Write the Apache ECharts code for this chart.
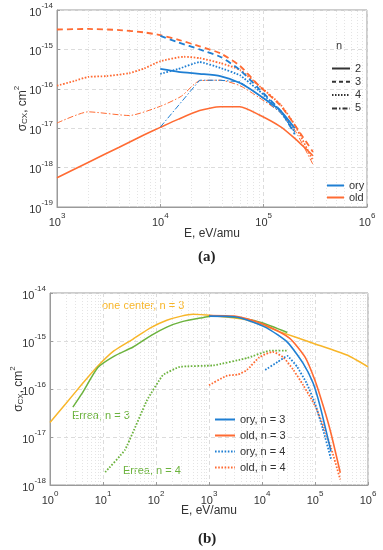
<!DOCTYPE html>
<html><head><meta charset="utf-8">
<script src="https://cdn.jsdelivr.net/npm/echarts@6/dist/echarts.min.js"></script>
<style>html,body{margin:0;padding:0;background:#fff;}#c{width:383px;height:550px;}</style>
</head><body><div id="c"></div>
<script>
// ---------- data: panel (a) [E (eV/amu), sigma (cm^2)] ----------
const A_ORY_N2 = [[1e4,3.2e-16],[1.5e4,2.7e-16],[2.4e4,2.4e-16],[3.8e4,2.1e-16],[5.9e4,1.4e-16],[9e4,7e-17],[1.45e5,2.8e-17],[2e5,1e-17]];
const A_ORY_N3 = [[1e4,2.2e-15],[1.5e4,1.5e-15],[2.4e4,1e-15],[3.8e4,6.5e-16],[5.9e4,3e-16],[9e4,1e-16],[1.45e5,2.8e-17],[2e5,7e-18]];
const A_ORY_N4 = [[1e4,2.4e-16],[1.5e4,3.2e-16],[2.4e4,4.8e-16],[3.8e4,3.4e-16],[5.9e4,2.2e-16],[9e4,9e-17],[1.45e5,2.8e-17],[2e5,8e-18]];
const A_ORY_N5 = [[1e4,1.07e-17],[2.4e4,1.65e-16],[3.8e4,1.65e-16],[5.9e4,1.5e-16],[9e4,7e-17],[1.45e5,2.5e-17],[2e5,8e-18]];
const A_OLD_N2 = [[1e3,5.5e-19],[2e3,1.35e-18],[4e3,3.3e-18],[7e3,6.8e-18],[1e4,1.05e-17],[1.5e4,1.7e-17],[2.4e4,2.8e-17],[3.8e4,3.5e-17],[5.9e4,3.5e-17],[9e4,2.2e-17],[1.45e5,1.1e-17],[2e5,5.5e-18],[3e5,2e-18]];
const A_OLD_N3 = [[1e3,3.2e-15],[2e3,3.3e-15],[4e3,3.1e-15],[7e3,2.7e-15],[1e4,2.3e-15],[1.5e4,1.75e-15],[2.4e4,1.2e-15],[3.8e4,8e-16],[5.9e4,3.8e-16],[9e4,1.2e-16],[1.45e5,3.8e-17],[2e5,1.2e-17],[3e5,2.5e-18]];
const A_OLD_N4 = [[1e3,1.2e-16],[1.5e3,1.6e-16],[2e3,2e-16],[3e3,2.1e-16],[5e3,2.5e-16],[7e3,3.3e-16],[1e4,5e-16],[1.7e4,6.5e-16],[2.4e4,6e-16],[3.8e4,4.5e-16],[5.9e4,3e-16],[9e4,1.2e-16],[1.45e5,4e-17],[2e5,1.2e-17],[3e5,1.5e-18]];
const A_OLD_N5 = [[1e3,1.35e-17],[2e3,2.6e-17],[5e3,2.1e-17],[1e4,3.6e-17],[1.6e4,6.5e-17],[2.4e4,1.6e-16],[3.8e4,1.65e-16],[5.9e4,1.2e-16],[9e4,6e-17],[1.45e5,2.5e-17],[2e5,9e-18],[3e5,1.2e-18]];
// ---------- data: panel (b) ----------
const B_ONE_CENTER_N3 = [[1,2e-17],[2,5e-17],[4,1.25e-16],[8,3e-16],[16,6.2e-16],[37,1.1e-15],[80,1.9e-15],[160,2.7e-15],[300,3.3e-15],[500,3.6e-15],[1.2e3,3.35e-15],[5.2e3,2.75e-15],[2.2e4,1.55e-15],[9.2e4,9e-16],[4e5,5.1e-16],[1e6,2.9e-16]];
const B_ERREA_N3 = [[2.7,4.2e-17],[4,8e-17],[8,2.8e-16],[16,4.8e-16],[37,7.5e-16],[80,1.3e-15],[160,1.95e-15],[300,2.5e-15],[680,3e-15],[1.2e3,3.3e-15],[4e3,3e-15],[1e4,2.4e-15],[3e4,1.5e-15]];
const B_ERREA_N4 = [[11,1.85e-18],[26,5.4e-18],[68,5.9e-17],[135,1.95e-16],[280,2.9e-16],[1.2e3,3.1e-16],[5.2e3,4.4e-16],[1.4e4,6.3e-16],[3e4,6.3e-16]];
const B_ORY_N3 = [[1e3,3.3e-15],[3e3,3.2e-15],[5.2e3,2.75e-15],[1.2e4,1.9e-15],[3e4,9.5e-16],[5.9e4,3.5e-16],[9.2e4,1.33e-16],[1.26e5,4.2e-17],[2e5,5e-18]];
const B_OLD_N3 = [[1e3,3.4e-15],[3e3,3.3e-15],[5.2e3,2.9e-15],[1.2e4,2.1e-15],[3.3e4,1.15e-15],[6.5e4,4.6e-16],[1e5,1.5e-16],[1.45e5,4.2e-17],[2e5,1.2e-17],[3e5,1.8e-18]];
const B_ORY_N4 = [[1.15e4,2.5e-16],[2e4,3.7e-16],[3e4,4.9e-16],[4.6e4,2.9e-16],[7e4,1.3e-16],[1e5,5e-17],[1.4e5,1.5e-17],[2e5,3.5e-18]];
const B_OLD_N4 = [[1e3,1.2e-16],[2.2e3,1.9e-16],[3.5e3,2e-16],[5.2e3,2.5e-16],[9e3,4.6e-16],[1.6e4,5.9e-16],[2.5e4,4.6e-16],[3.9e4,2.5e-16],[6e4,1.2e-16],[1e5,4.5e-17],[1.5e5,1.5e-17],[2e5,6e-18],[3e5,1.3e-18]];
// legend / annotation texts
const A_N_LABELS = ['2','3','4','5'];
const A_SRC_LABELS = ['ory','old'];
const B_LEGEND = ['ory, n = 3','old, n = 3','ory, n = 4','old, n = 4'];

const BLUE = '#1F7FD3', ORANGE = '#FF6B33', YELLOW = '#F8B62A', GREEN = '#6CB33E', INK = '#333';
const DASH = [6,4], DOT = [1.6,1.6], DASHDOT = [6,2,1.5,2];

function minorVals(lo, hi) { // 2..9 x 10^k between decades lo..hi (exponents)
  const r = [];
  for (let k = lo; k < hi; k++) for (let m = 2; m <= 9; m++) r.push(m * Math.pow(10, k));
  return r;
}
const minorStyle = {color:'#e4e4e4', type:[1,2], width:1};
function gridMarks(xlo, xhi, ylo, yhi) {
  return {
    silent: true, symbol: ['none','none'], z: 1, label: {show:false},
    lineStyle: minorStyle, emphasis:{disabled:true},
    animation: false,
    data: minorVals(xlo, xhi).map(v => ({xAxis: v})).concat(minorVals(ylo, yhi).map(v => ({yAxis: v})))
  };
}
const logFmt = v => '{b|10}{s|' + Math.round(Math.log10(v)) + '}';
const tickRich = {b:{fontSize:11, color:INK, lineHeight:16, verticalAlign:'bottom', fontFamily:'Liberation Sans'},
                  s:{fontSize:8, color:INK, verticalAlign:'top', fontFamily:'Liberation Sans'}};
function axisCommon(extra) {
  return Object.assign({
    type:'log', logBase:10,
    axisLine:{show:true, lineStyle:{color:'#9a9a9a'}},
    axisTick:{show:true, inside:true, length:3, lineStyle:{color:'#9a9a9a'}},
    splitLine:{show:true, lineStyle:{color:'#dcdcdc', type:[4,3]}},
    axisLabel:{formatter:logFmt, rich:tickRich, color:INK},
    nameMoveOverlap:false,
    nameTextStyle:{color:INK, fontSize:12, fontFamily:'Liberation Sans'}
  }, extra);
}
const yName = '{a|σ}{sub|CX}{a|, cm}{sup|2}';
const yNameRich = {a:{fontSize:12, color:INK, fontFamily:'Liberation Sans', lineHeight:16, verticalAlign:'bottom'},
  sub:{fontSize:8, color:INK, fontFamily:'Liberation Sans', verticalAlign:'bottom'},
  sup:{fontSize:8, color:INK, fontFamily:'Liberation Sans', verticalAlign:'top'}};

function ln(name, data, color, type, width, xi, extra) {
  return Object.assign({name, type:'line', data, xAxisIndex:xi, yAxisIndex:xi, showSymbol:false, symbol:'none',
    smooth:0.2, lineStyle:{color, type, width}, itemStyle:{color}, z:3, animation:false}, extra || {});
}

const series = [
  ln('a-old-2', A_OLD_N2, ORANGE, 'solid', 1.6, 0, {markLine: gridMarks(3,6,-19,-14)}),
  ln('a-old-3', A_OLD_N3, ORANGE, DASH, 1.8, 0),
  ln('a-old-4', A_OLD_N4, ORANGE, DOT, 1.8, 0),
  ln('a-old-5', A_OLD_N5, ORANGE, DASHDOT, 1, 0),
  ln('a-ory-2', A_ORY_N2, BLUE, 'solid', 1.8, 0),
  ln('a-ory-3', A_ORY_N3, BLUE, DASH, 1.8, 0),
  ln('a-ory-4', A_ORY_N4, BLUE, DOT, 1.8, 0, {smooth:0.1}),
  ln('a-ory-5', A_ORY_N5, BLUE, DASHDOT, 1, 0, {smooth:0}),
  // legend-only helpers for panel (a)
  ln('2', [], '#333', 'solid', 1.5, 0),
  ln('3', [], '#333', [4,3], 1.5, 0),
  ln('4', [], '#333', [1.5,1.5], 1.5, 0),
  ln('5', [], '#333', [5,2,1.5,2], 1.2, 0),
  ln('ory', [], BLUE, 'solid', 2, 0),
  ln('old', [], ORANGE, 'solid', 2, 0),
  // panel (b)
  ln('one center, n = 3', B_ONE_CENTER_N3, YELLOW, 'solid', 1.5, 1, {markLine: gridMarks(0,6,-18,-14)}),
  ln('Errea, n = 3', B_ERREA_N3, GREEN, 'solid', 1.5, 1),
  ln('Errea, n = 4', B_ERREA_N4, GREEN, DOT, 1.8, 1, {smooth:0.1}),
  ln('old, n = 4', B_OLD_N4, ORANGE, DOT, 1.8, 1),
  ln('ory, n = 4', B_ORY_N4, BLUE, DOT, 1.8, 1, {smooth:0.1}),
  ln('old, n = 3', B_OLD_N3, ORANGE, 'solid', 1.6, 1),
  ln('ory, n = 3', B_ORY_N3, BLUE, 'solid', 1.6, 1)
];

const legendText = {color:INK, fontSize:11, fontFamily:'Liberation Sans'};
const legendCommon = {orient:'vertical', itemHeight:12, textStyle:legendText, selectedMode:false, itemStyle:{opacity:0}};
const option = {
  animation:false,
  grid:[
    {left:57, top:10, width:310, height:197, show:true, borderColor:'#9a9a9a', borderWidth:1, backgroundColor:'transparent'},
    {left:50, top:293, width:318, height:192, show:true, borderColor:'#9a9a9a', borderWidth:1, backgroundColor:'transparent'}
  ],
  xAxis:[
    axisCommon({gridIndex:0, min:1e3, max:1e6, splitNumber:3, name:'E, eV/amu', nameLocation:'middle', nameGap:21, axisLabel:{formatter:logFmt, rich:tickRich, margin:5}}),
    axisCommon({gridIndex:1, min:1, max:1e6, splitNumber:6, name:'E, eV/amu', nameLocation:'middle', nameGap:20, axisLabel:{formatter:logFmt, rich:tickRich, margin:5}})
  ],
  yAxis:[
    axisCommon({gridIndex:0, min:1e-19, max:1e-14, splitNumber:5, name:yName, nameLocation:'middle', nameGap:28, nameTextStyle:{rich:yNameRich}, axisLabel:{formatter:logFmt, rich:tickRich, margin:4}}),
    axisCommon({gridIndex:1, min:1e-18, max:1e-14, splitNumber:4, name:yName, nameLocation:'middle', nameGap:25, nameTextStyle:{rich:yNameRich}, axisLabel:{formatter:logFmt, rich:tickRich, margin:4}})
  ],
  legend:[
    Object.assign({data:A_N_LABELS, left:326, top:58, itemWidth:18, itemGap:2.3}, legendCommon),
    Object.assign({data:A_SRC_LABELS, left:321, top:175, itemWidth:17, itemGap:1}, legendCommon),
    Object.assign({data:B_LEGEND, left:209, top:409, itemWidth:20, itemGap:5}, legendCommon)
  ],
  graphic:[
    {type:'text', left:336, top:40, style:{text:'n', fill:INK, font:'11px "Liberation Sans"'}},
    {type:'text', left:102, top:300, style:{text:'one center, n = 3', fill:YELLOW, font:'11px "Liberation Sans"'}},
    {type:'text', left:72, top:410, style:{text:'Errea, n = 3', fill:GREEN, font:'11px "Liberation Sans"'}},
    {type:'text', left:123, top:465, style:{text:'Errea, n = 4', fill:GREEN, font:'11px "Liberation Sans"'}},
    {type:'text', left:198, top:250, style:{text:'(a)', fill:'#222', font:'bold 15px "Liberation Serif"'}},
    {type:'text', left:198, top:532, style:{text:'(b)', fill:'#222', font:'bold 15px "Liberation Serif"'}}
  ],
  series
};
const chart = echarts.init(document.getElementById('c'), null, {renderer:'canvas'});
chart.setOption(option);
</script></body></html>
